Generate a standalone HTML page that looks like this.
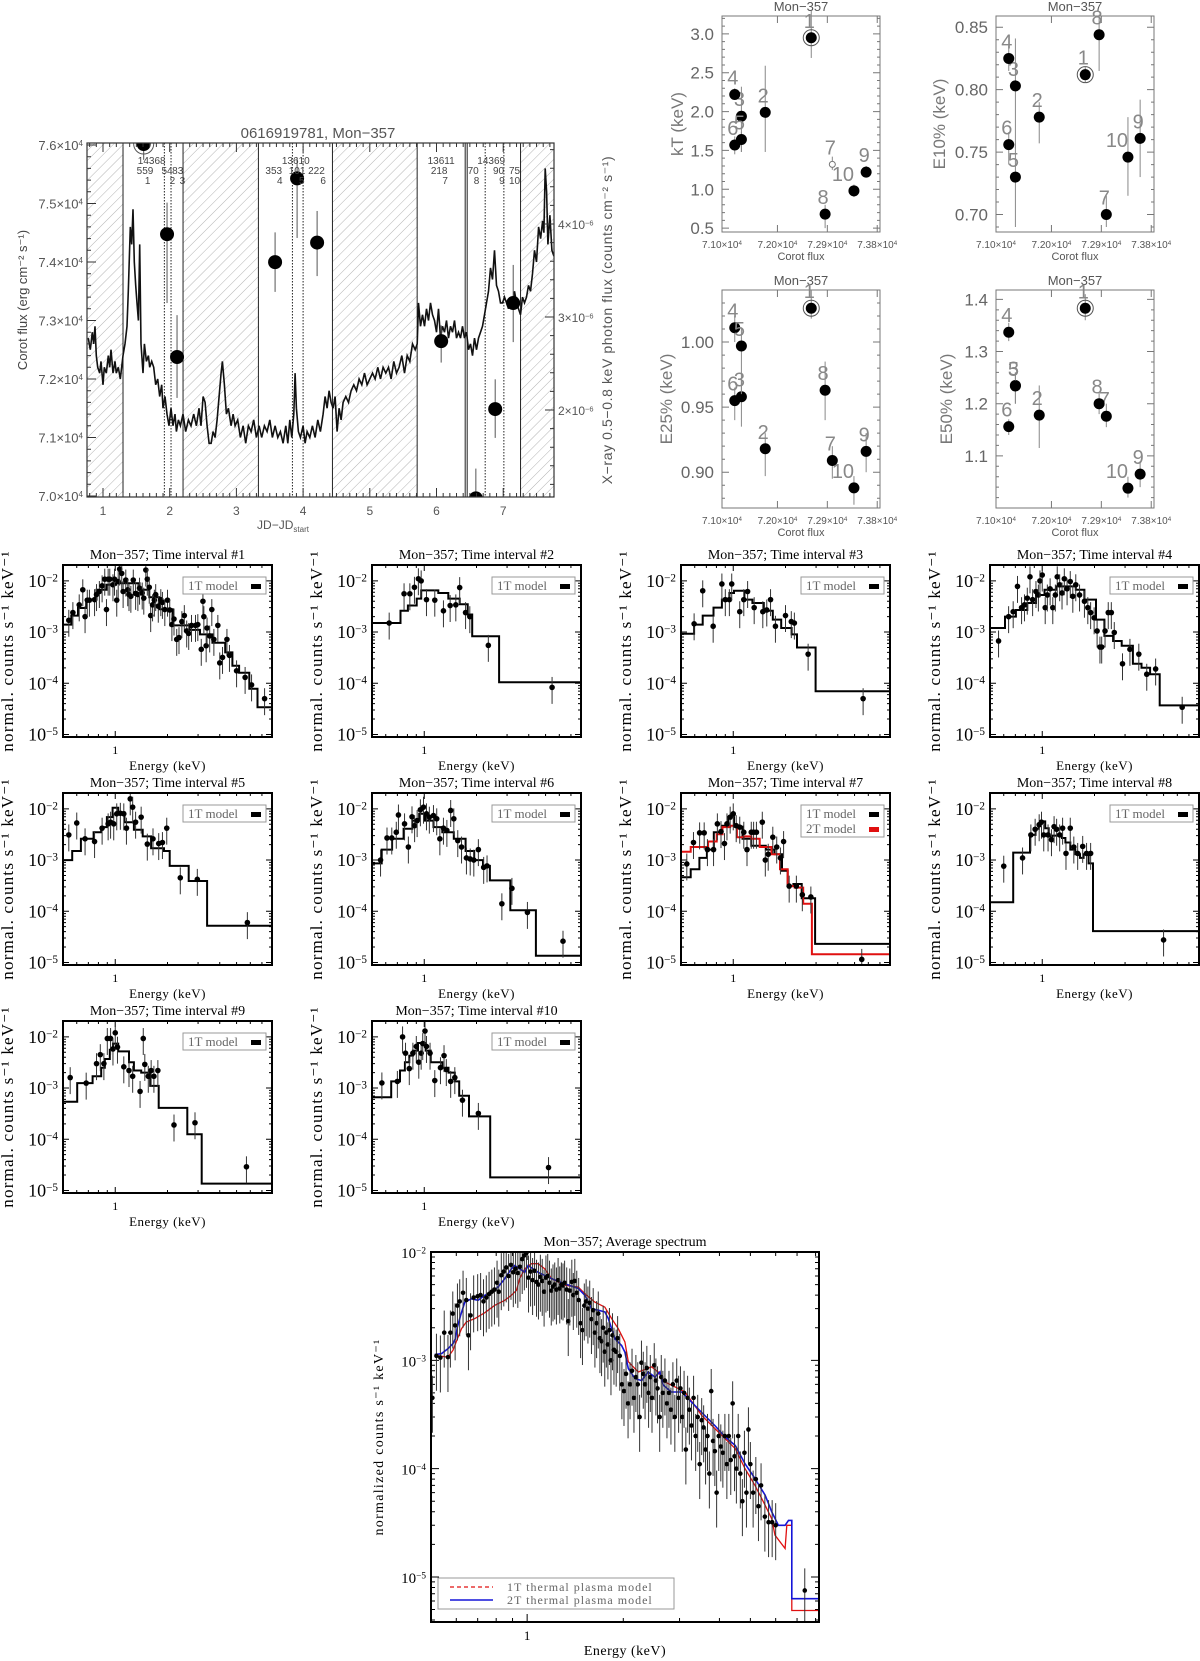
<!DOCTYPE html>
<html><head><meta charset="utf-8"><title>Mon-357 figure</title>
<style>
html,body{margin:0;padding:0;background:#fff;}
svg{display:block;}
text{font-family:"Liberation Sans",sans-serif;}
.serif{font-family:"Liberation Serif",serif;}
</style></head>
<body>
<svg id="fig" width="1200" height="1661" viewBox="0 0 1200 1661">
<defs>
<pattern id="hatch" patternUnits="userSpaceOnUse" width="7" height="7" patternTransform="rotate(45)">
<line x1="0" y1="0" x2="0" y2="7" stroke="#b4b4b4" stroke-width="1"/>
</pattern>
<clipPath id="lcclip"><rect x="87" y="143" width="467" height="354"/></clipPath>
</defs>
</svg>
<script>
// ---------------- LIGHT CURVE DATA ----------------
const lcJD=[0.78,0.81,0.84,0.86,0.88,0.9,0.92,0.95,0.97,1.0,1.02,1.05,1.08,1.1,1.12,1.15,1.18,1.2,1.23,1.26,1.3,1.33,1.36,1.38,1.41,1.43,1.45,1.47,1.49,1.51,1.53,1.55,1.57,1.6,1.62,1.65,1.68,1.7,1.73,1.76,1.79,1.82,1.85,1.88,1.9,1.93,1.96,1.99,2.02,2.05,2.08,2.1,2.13,2.16,2.2,2.24,2.28,2.32,2.36,2.4,2.44,2.47,2.5,2.53,2.56,2.59,2.62,2.65,2.68,2.71,2.74,2.77,2.79,2.82,2.85,2.88,2.92,2.95,2.98,3.02,3.06,3.1,3.14,3.18,3.22,3.26,3.3,3.34,3.38,3.42,3.46,3.5,3.54,3.58,3.62,3.66,3.7,3.74,3.77,3.8,3.83,3.86,3.88,3.9,3.93,3.96,4.0,4.03,4.06,4.1,4.14,4.18,4.22,4.26,4.3,4.33,4.36,4.39,4.42,4.45,4.48,4.51,4.54,4.57,4.6,4.64,4.68,4.72,4.76,4.8,4.84,4.88,4.92,4.96,5.0,5.04,5.08,5.12,5.16,5.2,5.24,5.28,5.32,5.36,5.4,5.44,5.48,5.52,5.56,5.6,5.64,5.68,5.71,5.73,5.76,5.79,5.82,5.85,5.88,5.91,5.94,5.97,6.0,6.03,6.06,6.09,6.12,6.15,6.18,6.21,6.24,6.27,6.3,6.33,6.36,6.39,6.42,6.45,6.48,6.51,6.54,6.57,6.6,6.63,6.66,6.69,6.72,6.75,6.78,6.81,6.84,6.87,6.9,6.93,6.96,6.99,7.02,7.05,7.08,7.11,7.14,7.17,7.2,7.23,7.26,7.29,7.32,7.35,7.38,7.41,7.44,7.47,7.5,7.53,7.56,7.59,7.61,7.63,7.65,7.67,7.7,7.73,7.76];
const lcFlux=[7.27,7.25,7.28,7.26,7.29,7.24,7.22,7.21,7.23,7.19,7.22,7.21,7.24,7.22,7.25,7.21,7.23,7.21,7.22,7.20,7.24,7.26,7.29,7.35,7.46,7.43,7.49,7.40,7.36,7.33,7.30,7.43,7.26,7.21,7.26,7.23,7.24,7.22,7.23,7.22,7.19,7.20,7.17,7.19,7.15,7.17,7.14,7.12,7.15,7.12,7.14,7.11,7.13,7.12,7.14,7.11,7.13,7.12,7.14,7.12,7.15,7.12,7.17,7.16,7.12,7.09,7.09,7.11,7.10,7.13,7.17,7.21,7.23,7.19,7.14,7.15,7.12,7.14,7.12,7.13,7.10,7.12,7.09,7.12,7.11,7.13,7.10,7.12,7.10,7.12,7.11,7.13,7.10,7.12,7.10,7.11,7.09,7.12,7.09,7.13,7.10,7.14,7.21,7.15,7.11,7.10,7.12,7.09,7.11,7.10,7.12,7.10,7.13,7.11,7.14,7.17,7.15,7.18,7.16,7.15,7.17,7.11,7.15,7.13,7.16,7.17,7.16,7.18,7.19,7.18,7.20,7.19,7.21,7.19,7.20,7.21,7.20,7.22,7.20,7.22,7.21,7.22,7.20,7.23,7.21,7.22,7.24,7.21,7.24,7.23,7.26,7.25,7.26,7.33,7.29,7.31,7.29,7.32,7.30,7.33,7.31,7.30,7.28,7.32,7.27,7.29,7.28,7.30,7.27,7.29,7.28,7.30,7.27,7.28,7.27,7.29,7.27,7.28,7.25,7.26,7.24,7.27,7.25,7.27,7.28,7.29,7.31,7.33,7.35,7.39,7.37,7.42,7.36,7.35,7.33,7.33,7.34,7.33,7.32,7.34,7.33,7.35,7.33,7.32,7.31,7.34,7.33,7.34,7.36,7.35,7.38,7.42,7.40,7.46,7.44,7.47,7.45,7.56,7.52,7.43,7.48,7.42,7.41];
const solidJD=[1.30,2.20,3.33,4.44,5.71,6.43,6.46,7.26];
const dottedJD=[1.92,2.02,3.84,4.00,6.73,7.01];
const hatchStart=[0.76,2.20,4.44,7.26];
const hatchEnd=[1.30,3.33,5.71,7.77];
const xrJD=[1.61,1.96,2.11,3.58,3.91,4.21,6.07,6.59,6.88,7.15];
const xrFlux=[4.86,3.89,2.57,3.59,4.49,3.80,2.74,1.05,2.01,3.15];
const xrLo=[4.69,3.15,2.13,3.27,3.85,3.44,2.51,0.95,1.70,2.73];
const xrHi=[4.86,4.23,3.02,3.91,4.71,4.14,2.91,1.37,2.33,3.56];
const obsLabels=["14368","13610","13611","14369"];
const obsJD=[1.73,3.89,6.07,6.82];
const cntLabels=["559","54","83","353","101","222","218","70","90","75"];
const cntJD=[1.63,1.96,2.12,3.56,3.91,4.20,6.04,6.55,6.93,7.17];
const idxLabels=["1","2","3","4","5","6","7","8","9","10"];
const idxJD=[1.67,2.04,2.19,3.65,3.98,4.30,6.13,6.60,6.98,7.17];
const lcYTicks=[7.0,7.1,7.2,7.3,7.4,7.5,7.6];
const lcYLabels=["7.0","7.1","7.2","7.3","7.4","7.5","7.6"];
const lcRTicks=[2,3,4];
const lcXTicks=[1,2,3,4,5,6,7];

// ---------------- SCATTER PANELS DATA ----------------
const corotFlux=[7.261,7.178,7.135,7.123,7.135,7.123,7.299,7.286,7.360,7.338];
const ktVal=[2.95,1.99,1.94,2.22,1.64,1.57,1.32,0.68,1.22,0.98];
const ktLo=[2.69,1.48,1.48,2.17,1.48,1.45,1.25,0.50,1.15,0.90];
const ktHi=[3.30,2.59,2.32,2.30,1.74,1.68,1.42,0.80,1.30,1.06];
const e10Val=[0.812,0.778,0.803,0.825,0.730,0.756,0.700,0.844,0.761,0.746];
const e10Lo=[0.806,0.757,0.753,0.815,0.690,0.740,0.690,0.815,0.730,0.715];
const e10Hi=[0.818,0.790,0.841,0.835,0.757,0.766,0.715,0.860,0.792,0.778];
const e25Val=[1.026,0.918,0.958,1.011,0.997,0.955,0.909,0.963,0.916,0.888];
const e25Lo=[1.018,0.897,0.935,1.000,0.960,0.940,0.895,0.940,0.900,0.875];
const e25Hi=[1.040,0.930,0.970,1.020,1.010,0.965,0.920,0.985,0.930,0.897];
const e50Val=[1.383,1.178,1.235,1.337,1.234,1.156,1.176,1.200,1.065,1.038];
const e50Lo=[1.360,1.115,1.200,1.320,1.200,1.140,1.155,1.180,1.040,1.020];
const e50Hi=[1.410,1.235,1.260,1.355,1.260,1.170,1.200,1.220,1.090,1.060];
const corotTicks=[7.10,7.20,7.29,7.38];
const corotTickLabels=["7.10","7.20","7.29","7.38"];

// ---------------- SPECTRA DATA ----------------
const s1E=[0.54,0.57,0.62,0.65,0.67,0.69,0.71,0.76,0.78,0.81,0.84,0.87,0.89,0.91,0.93,0.97,0.99,1.02,1.04,1.06,1.09,1.11,1.15,1.18,1.2,1.23,1.27,1.31,1.35,1.38,1.43,1.46,1.5,1.53,1.57,1.6,1.64,1.68,1.71,1.77,1.83,1.87,1.93,2.0,2.06,2.12,2.18,2.26,2.33,2.42,2.5,2.58,2.65,2.75,2.9,2.99,3.13,3.2,3.24,3.34,3.38,3.5,3.6,3.7,3.9,4.0,4.15,4.4,4.55,5.0,5.6,6.1,7.25];
const s1C=[1.7e-3,2.4e-3,3.4e-3,6.7e-3,2e-3,4.2e-3,4.2e-3,4.3e-3,5.4e-3,6.2e-3,8e-3,1.08e-2,2.75e-3,1.08e-2,1.08e-2,8.4e-3,1.08e-2,4.2e-3,9.7e-3,1.7e-2,1.4e-2,6.2e-3,1.04e-2,6.7e-3,5.4e-3,5e-3,1.04e-2,5.7e-3,5.4e-3,7.2e-3,5.8e-3,4.6e-3,1.63e-2,1.08e-2,7.5e-3,2.1e-3,3.4e-3,4.2e-3,5.4e-3,3.2e-3,4.3e-3,3.8e-3,2.75e-3,4.2e-3,2.7e-3,1.4e-3,1.8e-3,7.2e-4,7.8e-4,1.6e-3,2.1e-3,1.05e-3,9.4e-4,1.35e-3,1.35e-3,1.4e-3,4.6e-4,4e-3,2e-3,5.4e-4,1.2e-3,8.4e-4,2.75e-3,7.2e-4,1.35e-3,2.5e-4,3.2e-4,7.2e-4,3.5e-4,1.75e-4,1.3e-4,9.3e-5,5e-5];
const m1E=[0.5,0.558,0.61,0.68,0.78,0.89,1.01,1.38,1.57,1.79,2.14,2.68,3.08,3.63,4.3,4.73,5.17,5.92,6.6,8];
const m1V=[1.4e-3,2.1e-3,2.95e-3,4.3e-3,6.7e-3,8.4e-3,9e-3,6.7e-3,4.8e-3,2.8e-3,1.35e-3,1.1e-3,9e-4,6.2e-4,4e-4,2.2e-4,1.6e-4,7.8e-5,3.4e-5];

const s2E=[0.628,0.765,0.826,0.878,0.925,0.96,1.03,1.15,1.29,1.41,1.52,1.6,1.73,1.83,2.34,5.45];
const s2C=[1.5e-3,5.6e-3,5.6e-3,7.5e-3,1.1e-2,1e-2,4.3e-3,4.2e-3,2.6e-3,3.3e-3,3.4e-3,7.4e-3,2.4e-3,2.0e-3,5.5e-4,8.3e-5];
const m2E=[0.5,0.73,0.805,0.905,0.96,1.205,1.375,1.6,1.78,1.89,2.7,8];
const m2V=[1.5e-3,2.6e-3,3.3e-3,4.5e-3,6.5e-3,5.8e-3,4.5e-3,3.5e-3,2.2e-3,8.3e-4,1.05e-4];

const s3E=[0.595,0.667,0.766,0.86,0.9,0.95,0.98,1.09,1.15,1.21,1.32,1.48,1.56,1.64,1.75,2.0,2.16,2.25,2.7,5.6];
const s3C=[1.45e-3,6.4e-3,1.3e-3,8.7e-3,4.3e-3,4.3e-3,8.7e-3,2.5e-3,4.3e-3,6.2e-3,3.0e-3,2.5e-3,2.7e-3,4.3e-3,1.3e-3,2.1e-3,1.6e-3,1.5e-3,3.7e-4,5e-5];
const m3E=[0.5,0.595,0.667,0.77,0.86,0.95,1.01,1.16,1.29,1.5,1.69,1.89,2.17,2.33,2.98,8];
const m3V=[9.3e-4,1.4e-3,2.1e-3,3e-3,4.3e-3,5.8e-3,6.4e-3,4.3e-3,3.7e-3,2.6e-3,1.75e-3,1.2e-3,9e-4,5e-4,7e-5];

const s4E=[0.56,0.64,0.68,0.72,0.76,0.79,0.82,0.85,0.88,0.92,0.95,0.97,1.0,1.04,1.07,1.11,1.15,1.19,1.22,1.26,1.3,1.34,1.39,1.45,1.5,1.56,1.64,1.75,1.83,1.9,1.99,2.07,2.15,2.2,2.3,2.4,2.5,2.6,2.9,3.2,3.6,4.0,4.5,6.4];
const s4C=[6.7e-4,2e-3,2.5e-3,7.8e-3,3e-3,3.4e-3,4.6e-3,1.2e-2,4.3e-3,6.2e-3,5.3e-3,1e-2,1.3e-2,3e-3,5.3e-3,7e-3,3e-3,5.3e-3,1.2e-2,8.4e-3,5.8e-3,1.1e-2,7e-3,9.7e-3,5e-3,8.4e-3,5.3e-3,4e-3,3e-3,2.4e-3,1.9e-3,1.05e-3,5.1e-4,5.1e-4,1.05e-3,2.4e-3,2.4e-3,9.8e-4,2.4e-4,4.6e-4,3.7e-4,1.5e-4,1.9e-4,3.4e-5];
const m4E=[0.5,0.61,0.705,0.82,0.92,1.03,1.2,1.56,1.75,2.04,2.28,2.56,2.87,3.33,3.73,4.18,4.75,8];
const m4V=[1.2e-3,2.0e-3,2.7e-3,3.7e-3,5.3e-3,6.7e-3,7.8e-3,6.7e-3,4.3e-3,1.75e-3,8.4e-4,6.7e-4,5.4e-4,2.4e-4,2.0e-4,1.5e-4,3.7e-5];

const s5E=[0.54,0.6,0.67,0.76,0.84,0.91,0.94,0.98,1.02,1.07,1.12,1.16,1.22,1.26,1.31,1.41,1.53,1.65,1.78,1.87,1.98,2.37,2.97,5.77];
const s5C=[3.1e-3,5.3e-3,2.6e-3,2.3e-3,4.2e-3,5.1e-3,5.5e-3,5.1e-3,8e-3,8.2e-3,8e-3,4.2e-3,1.57e-2,1.08e-2,5.5e-3,6.9e-3,2.05e-3,2.6e-3,2.1e-3,2.2e-3,4.2e-3,4.5e-4,4.2e-4,6e-5];
const m5E=[0.5,0.565,0.634,0.75,0.83,0.895,0.965,1.04,1.13,1.28,1.44,1.61,1.91,2.06,2.65,3.38,8];
const m5V=[1.0e-3,1.5e-3,2.6e-3,3.5e-3,4.4e-3,6.9e-3,1.05e-2,8.6e-3,5.5e-3,3.9e-3,2.9e-3,1.7e-3,1.5e-3,7.7e-4,3.9e-4,5.2e-5];

const s6E=[0.56,0.61,0.65,0.69,0.71,0.77,0.81,0.85,0.88,0.91,0.95,0.99,1.03,1.07,1.13,1.18,1.23,1.29,1.35,1.42,1.48,1.56,1.64,1.75,1.84,1.93,2.05,2.2,2.3,2.8,3.2,3.93,6.3];
const s6C=[1.0e-3,2.7e-3,2.7e-3,3.5e-3,7.6e-3,5.1e-3,1.8e-3,7e-3,4.7e-3,5.9e-3,9.6e-3,1.08e-2,8e-3,6.9e-3,7.4e-3,6.4e-3,2.6e-3,4.2e-3,3.8e-3,9.3e-3,6.4e-3,2.4e-3,1.8e-3,1.1e-3,1.05e-3,1.0e-3,1.6e-3,7.2e-4,7.7e-4,1.4e-4,2.8e-4,9.5e-5,2.6e-5];
const m6E=[0.5,0.569,0.653,0.76,0.853,0.935,1.01,1.13,1.27,1.48,1.73,1.94,2.18,2.39,3.13,4.4,8];
const m6V=[8.6e-4,1.6e-3,2.6e-3,4.1e-3,5.9e-3,8e-3,5.9e-3,4.4e-3,3.5e-3,2.6e-3,1.5e-3,1.0e-3,7.7e-4,4.0e-4,1.05e-4,1.35e-5];

const s7E=[0.54,0.59,0.64,0.68,0.71,0.77,0.81,0.85,0.89,0.92,0.96,1.0,1.04,1.09,1.15,1.2,1.27,1.31,1.36,1.47,1.53,1.59,1.69,1.78,1.87,1.95,2.1,2.31,2.5,2.8,5.5];
const s7C=[8.4e-4,2.2e-3,3.4e-3,3.4e-3,1.6e-3,1.6e-3,5.1e-3,3.6e-3,2.1e-3,5.1e-3,6.9e-3,8e-3,4.7e-3,4.4e-3,3.5e-3,1.6e-3,3.5e-3,3.5e-3,3.5e-3,5.5e-3,1.0e-3,1.3e-3,2.8e-3,1.8e-3,1.1e-3,2.3e-3,3.1e-4,3.1e-4,2.1e-4,1.9e-4,1.15e-5];
const m7E=[0.5,0.569,0.638,0.705,0.773,0.867,0.935,1.01,1.13,1.27,1.54,1.73,1.91,2.06,2.22,2.48,2.96,8];
const m7V=[4.6e-4,6.6e-4,1.1e-3,1.6e-3,3.5e-3,4.7e-3,6.9e-3,4.5e-3,2.6e-3,1.9e-3,1.6e-3,1.3e-3,6.2e-4,3.1e-4,3.4e-4,1.8e-4,2.3e-5];
const m7bE=[0.5,0.569,0.716,0.803,0.867,0.96,1.05,1.15,1.27,1.42,1.66,1.86,2.06,2.26,2.53,2.84,8];
const m7bV=[1.45e-3,1.8e-3,2.3e-3,3.2e-3,4.4e-3,4.7e-3,2.8e-3,2.9e-3,2.6e-3,1.8e-3,1.3e-3,6.6e-4,3.1e-4,2.9e-4,1.4e-4,1.45e-5];

const s8E=[0.6,0.77,0.86,0.91,0.96,0.99,1.02,1.08,1.13,1.17,1.21,1.26,1.31,1.37,1.45,1.52,1.6,1.71,1.8,1.9,5.0];
const s8C=[7.6e-4,1.1e-3,3.1e-3,4e-3,4.9e-3,5.5e-3,3.1e-3,3.1e-3,2.5e-3,4.5e-3,4e-3,3.1e-3,4.2e-3,1.35e-3,4.2e-3,1.8e-3,1.35e-3,1.85e-3,1.35e-3,1.35e-3,2.75e-5];
const m8E=[0.5,0.68,0.85,0.914,0.955,0.985,1.04,1.09,1.14,1.30,1.36,1.45,1.55,1.65,1.73,1.85,1.96,8];
const m8V=[1.5e-4,1.4e-3,3.1e-3,4.1e-3,4.9e-3,5.7e-3,4.2e-3,2.9e-3,3e-3,2.7e-3,2.2e-3,1.6e-3,1.3e-3,1.1e-3,1.3e-3,8.6e-4,4.1e-5];

const s9E=[0.55,0.68,0.78,0.82,0.86,0.9,0.94,0.97,1.0,1.03,1.12,1.2,1.26,1.39,1.45,1.48,1.55,1.61,1.67,1.76,2.18,2.88,5.7];
const s9C=[1.6e-3,1.25e-3,3e-3,4.5e-3,3e-3,9.3e-3,9.3e-3,5.8e-3,1.2e-2,6.3e-3,2.6e-3,2.2e-3,1.7e-3,8.6e-4,9.3e-3,2.9e-3,1.7e-3,2.2e-3,1.7e-3,2.2e-3,1.9e-4,2.1e-4,2.9e-5];
const m9E=[0.5,0.604,0.74,0.83,0.87,0.93,0.97,1.04,1.2,1.28,1.41,1.59,1.78,2.6,3.15,8];
const m9V=[5.4e-4,1.25e-3,1.7e-3,2.5e-3,3.7e-3,5.6e-3,7.4e-3,5.2e-3,3.2e-3,2.2e-3,2e-3,1.1e-3,4.1e-4,1.25e-4,1.36e-5];

const s10E=[0.57,0.7,0.75,0.78,0.82,0.86,0.9,0.93,0.96,0.98,1.01,1.03,1.08,1.15,1.24,1.3,1.34,1.42,1.5,1.66,2.05,5.2];
const s10C=[1.26e-3,1.35e-3,1e-2,4.8e-3,2.4e-3,4.8e-3,6.5e-3,3.2e-3,4.8e-3,7.4e-3,1.3e-2,6.5e-3,4.8e-3,1.4e-3,2.5e-3,4.3e-3,2.3e-3,1.35e-3,1.6e-3,5.8e-4,3.2e-4,2.8e-5];
const m10E=[0.5,0.645,0.725,0.774,0.82,0.86,0.92,1.02,1.09,1.27,1.38,1.5,1.59,1.81,2.4,8];
const m10V=[6.6e-4,1.35e-3,2.2e-3,3.2e-3,4.3e-3,5.4e-3,7.6e-3,5.4e-3,3.2e-3,2.5e-3,2e-3,1.35e-3,7.1e-4,2.8e-4,1.8e-5];

// average spectrum
const avgE=[0.505,0.52,0.535,0.55,0.565,0.575,0.585,0.595,0.605,0.615,0.63,0.645,0.655,0.665,0.68,0.70,0.715,0.73,0.745,0.76,0.775,0.79,0.805,0.815,0.83,0.845,0.86,0.875,0.89,0.905,0.92,0.935,0.95,0.965,0.98,0.995,1.01,1.025,1.04,1.055,1.07,1.085,1.1,1.115,1.13,1.145,1.16,1.175,1.19,1.205,1.22,1.235,1.25,1.265,1.28,1.295,1.31,1.33,1.345,1.36,1.38,1.395,1.41,1.43,1.45,1.47,1.49,1.51,1.53,1.55,1.57,1.59,1.61,1.63,1.65,1.67,1.69,1.71,1.73,1.75,1.77,1.79,1.81,1.83,1.85,1.87,1.9,1.92,1.95,1.98,2.01,2.04,2.07,2.1,2.13,2.16,2.19,2.22,2.25,2.28,2.31,2.34,2.37,2.4,2.43,2.46,2.5,2.53,2.56,2.6,2.63,2.66,2.7,2.74,2.78,2.82,2.86,2.9,2.94,2.98,3.02,3.06,3.1,3.14,3.18,3.22,3.27,3.32,3.37,3.42,3.47,3.52,3.57,3.62,3.67,3.72,3.77,3.82,3.87,3.92,3.98,4.04,4.1,4.16,4.22,4.28,4.34,4.4,4.46,4.52,4.58,4.65,4.72,4.79,4.86,4.93,5.0,5.1,5.2,5.3,5.4,5.55,5.7,5.85,6.0,7.4];
const avgC=[4.5e-4,1.1e-3,1.06e-3,1.8e-3,1.07e-3,1.8e-3,2.7e-3,2.1e-3,3.2e-3,3.5e-3,4.2e-3,3.6e-3,1.7e-3,2.6e-3,3.8e-3,3.9e-3,4.0e-3,3.5e-3,3.8e-3,4.1e-3,4.3e-3,4.5e-3,5.2e-3,4.3e-3,6.1e-3,6.6e-3,7.2e-3,6.0e-3,7.6e-3,6.5e-3,7.0e-3,6.4e-3,7.3e-3,8.6e-3,9.3e-3,9.8e-3,5.8e-3,6.6e-3,5.5e-3,6.7e-3,5.3e-3,5.0e-3,5.9e-3,5.4e-3,4.3e-3,5.8e-3,6.0e-3,5.2e-3,4.4e-3,4.8e-3,5.0e-3,4.5e-3,5.5e-3,4.6e-3,5.0e-3,4.9e-3,5.2e-3,4.5e-3,2.3e-3,4.4e-3,5.3e-3,4.0e-3,5.4e-3,4.2e-3,3.6e-3,2.2e-3,1.9e-3,3.2e-3,3.5e-3,3.0e-3,3.4e-3,2.4e-3,2.9e-3,1.8e-3,2.2e-3,2.7e-3,1.6e-3,1.5e-3,2.0e-3,1.2e-3,1.8e-3,1.4e-3,1.9e-3,1.0e-3,1.7e-3,1.25e-3,1.2e-3,1.6e-3,1.1e-3,6.0e-4,5.2e-4,7.5e-4,4.0e-4,6.0e-4,8.0e-4,4.5e-4,7.0e-4,6.0e-4,3.0e-4,9.5e-4,7.5e-4,6.0e-4,8.5e-4,5.0e-4,7.0e-4,4.5e-4,9.0e-4,6.5e-4,5.5e-4,3.0e-4,7.0e-4,5.0e-4,6.5e-4,4.0e-4,5.0e-4,3.5e-4,6.0e-4,3.0e-4,6.5e-4,4.5e-4,5.5e-4,3.0e-4,5.0e-4,1.5e-4,4.5e-4,3.5e-4,2.5e-4,4.5e-4,2.0e-4,3.0e-4,1.1e-4,2.8e-4,2.4e-4,1.5e-4,2.0e-4,9.0e-5,5.2e-4,1.8e-4,1.45e-4,6.0e-5,2.0e-4,1.6e-4,1.4e-4,2.0e-4,1.1e-4,2.0e-4,1.2e-4,4.0e-4,1.3e-4,1.0e-4,2.0e-4,9.0e-5,5.0e-5,1.4e-4,6.0e-5,2.3e-4,1.1e-4,6.0e-5,8.0e-5,4.5e-5,7.0e-5,3.6e-5,3.2e-5,3.2e-5,3.0e-5,7.5e-6];
const avg2TE=[0.513,0.539,0.565,0.586,0.596,0.605,0.619,0.638,0.669,0.702,0.737,0.773,0.811,0.851,0.893,0.915,0.948,0.983,1.007,1.083,1.192,1.313,1.445,1.516,1.591,1.669,1.751,1.795,1.883,1.976,2.024,2.073,2.175,2.282,2.394,2.512,2.604,2.667,2.83,3.05,3.2,3.52,3.87,4.17,4.48,4.81,5.17,5.56,5.83,6.12,6.42,6.58,6.74,6.74,8.2];
const avg2TC=[1.13e-3,1.15e-3,1.28e-3,1.43e-3,1.58e-3,2.03e-3,2.6e-3,3.45e-3,3.7e-3,3.58e-3,3.98e-3,4.28e-3,4.75e-3,5.68e-3,7.0e-3,7.5e-3,7.0e-3,6.5e-3,7.5e-3,6.5e-3,5.68e-3,5.1e-3,4.6e-3,3.98e-3,3.0e-3,2.9e-3,2.8e-3,2.43e-3,1.58e-3,1.37e-3,1.19e-3,8.4e-4,6.8e-4,6.5e-4,7.8e-4,7.0e-4,7.8e-4,5.9e-4,5.1e-4,5.1e-4,4.4e-4,3.3e-4,2.5e-4,1.96e-4,1.64e-4,1.11e-4,8.1e-5,5.7e-5,4.0e-5,3.0e-5,3.0e-5,3.33e-5,3.33e-5,6.3e-6,6.3e-6];
const avg1TE=[0.513,0.565,0.586,0.605,0.623,0.645,0.686,0.737,0.792,0.851,0.893,0.926,0.948,0.983,1.032,1.083,1.136,1.192,1.313,1.445,1.516,1.629,1.751,1.838,1.929,2.024,2.073,2.228,2.452,2.573,2.7,2.97,3.12,3.52,3.97,4.48,4.81,5.17,5.56,5.83,5.97,6.42,6.5,6.74,6.74,8.2];
const avg1TC=[1.11e-3,1.07e-3,1.24e-3,1.58e-3,1.96e-3,2.26e-3,2.43e-3,2.75e-3,3.22e-3,3.58e-3,3.98e-3,4.43e-3,5.68e-3,7.0e-3,7.8e-3,7.8e-3,7.0e-3,5.68e-3,4.92e-3,4.75e-3,4.12e-3,3.45e-3,3.1e-3,2.43e-3,1.96e-3,1.48e-3,9.7e-4,7.8e-4,8.7e-4,7.8e-4,6.3e-4,5.5e-4,5.1e-4,3.1e-4,2.18e-4,1.53e-4,1.0e-4,7.0e-5,4.6e-5,3.45e-5,2.43e-5,1.83e-5,3.0e-5,3.0e-5,4.9e-6,4.9e-6];

// ---------------- HELPERS ----------------
const svg=document.getElementById('fig');
const NS=svg.namespaceURI;
function mk(tag,attrs,parent){const el=document.createElementNS(NS,tag);for(const k in attrs)el.setAttribute(k,attrs[k]);(parent||svg).appendChild(el);return el;}
function txt(x,y,s,attrs,parent){const el=mk('text',Object.assign({x:x,y:y},attrs),parent);el.textContent=s;return el;}
function supTxt(x,y,base,sup,attrs,parent){
  const el=mk('text',Object.assign({x:x,y:y},attrs),parent);
  const a=mk('tspan',{},el);a.textContent=base;
  const b=mk('tspan',{dy:'-0.5em','font-size':'0.62em'},el);b.textContent=sup;
  return el;
}
function grp(parent){return mk('g',{},parent);}

// ---------------- LIGHT CURVE ----------------
(function(){
  const g=grp();
  
  
  const L=87,R=554,T=143,B=497;
  const X=j=>103+(j-1)*66.7;
  const Y=v=>145+(7.6-v)/0.6*351;
  const YR=p=>317-(p-3)*93;
  for(let i=0;i<hatchStart.length;i++){
    const r=mk('rect',{x:X(hatchStart[i]),y:T,width:X(hatchEnd[i])-X(hatchStart[i]),height:B-T,fill:'url(#hatch)','clip-path':'url(#lcclip)'},g);
    
    
  }
  for(const j of solidJD){
    const l=mk('line',{x1:X(j),x2:X(j),y1:T,y2:B,stroke:'#222','stroke-width':1},g);
    
    
  }
  for(const j of dottedJD){
    const l=mk('line',{x1:X(j),x2:X(j),y1:T,y2:B,stroke:'#222','stroke-width':1,'stroke-dasharray':'1.5,1.5'},g);
    
    
  }
  let d='';
  for(let i=0;i<lcJD.length;i++)d+=(i?'L':'M')+X(lcJD[i]).toFixed(1)+' '+Y(lcFlux[i]).toFixed(1);
  const line=mk('path',{d:d,fill:'none',stroke:'#111','stroke-width':1.6,'clip-path':'url(#lcclip)'},g);
  
  
  for(let i=0;i<xrJD.length;i++){
    const e=mk('line',{x1:X(xrJD[i]),x2:X(xrJD[i]),y1:Math.min(YR(xrLo[i]),B),y2:YR(xrHi[i]),stroke:'#555','stroke-width':1},g);
    
    
    const c=mk('circle',{cx:X(xrJD[i]),cy:YR(xrFlux[i]),r:7,fill:'#000','clip-path':'url(#lcclip)'},g);
    
    
  }
  const ring=mk('circle',{cx:X(xrJD[0]),cy:YR(xrFlux[0]),r:10,fill:'none',stroke:'#555','stroke-width':1,'clip-path':'url(#lcclip)'},g);
  
  
  const box=mk('rect',{x:L,y:T,width:R-L,height:B-T,fill:'none',stroke:'#333','stroke-width':1.2},g);
  
  
  let td='';
  for(let v=7.0;v<=7.6001;v+=0.02){const y=Y(v);const major=Math.abs(v*10-Math.round(v*10))<0.01;const len=major?9:4;td+=`M${L} ${y}h${len}`;}
  for(let p=1.0;p<=4.9;p+=0.2){const y=YR(p);if(y<T||y>B)continue;const major=Math.abs(p-Math.round(p))<0.01;td+=`M${R} ${y}h${major?-9:-4}`;}
  for(let j=0.8;j<=7.75;j+=0.1){const x=X(j);const major=Math.abs(j-Math.round(j))<0.01;const len=major?9:4;td+=`M${x} ${B}v${-len}M${x} ${T}v${len}`;}
  const ticks=mk('path',{d:td,stroke:'#333','stroke-width':1,fill:'none'},g);
  
  
  for(let i=0;i<lcYTicks.length;i++){
    const t=supTxt(83,Y(lcYTicks[i])+5,lcYLabels[i]+'×10','4',{'text-anchor':'end','font-size':13,fill:'#555'},g);
    
    
  }
  for(const p of lcRTicks){
    const t=supTxt(558,YR(p)+5,p+'×10','−6',{'font-size':12,fill:'#555'},g);
    
    
  }
  for(const j of lcXTicks){
    const t=txt(X(j),515,String(j),{'text-anchor':'middle','font-size':12,fill:'#555'},g);
    
    
  }
  const xl=mk('text',{x:283,y:529,'text-anchor':'middle','font-size':12,fill:'#555'},g);
  
  
  const xa=mk('tspan',{},xl);xa.textContent='JD−JD';
  const xb=mk('tspan',{dy:'3','font-size':8},xl);xb.textContent='start';
  const yl=txt(0,0,'Corot flux (erg cm⁻² s⁻¹)',{'text-anchor':'middle','font-size':13,fill:'#444',transform:'translate(27,300) rotate(-90)'},g);
  
  
  const yr=txt(0,0,'X−ray 0.5−0.8 keV photon flux (counts cm⁻² s⁻¹)',{'text-anchor':'middle','font-size':14,fill:'#555','letter-spacing':'0.6',transform:'translate(612,320) rotate(-90)'},g);
  
  
  const ti=txt(318,138,'0616919781, Mon−357',{'text-anchor':'middle','font-size':15,fill:'#555'},g);
  
  
  for(let i=0;i<obsLabels.length;i++){
    const t=txt(X(obsJD[i]),164,obsLabels[i],{'text-anchor':'middle','font-size':10,fill:'#444'},g);
    
    
  }
  for(let i=0;i<cntLabels.length;i++){
    const t=txt(X(cntJD[i]),174,cntLabels[i],{'text-anchor':'middle','font-size':10,fill:'#444'},g);
    
    
    const u=txt(X(idxJD[i]),184,idxLabels[i],{'text-anchor':'middle','font-size':10,fill:'#444'},g);
    
    
  }
})();

// ---------------- SCATTER PANELS ----------------
function scatterPanel(p){
  const g=grp();
  
  
  const X=c=>p.x+(c-7.10)/(7.385-7.10)*p.w;
  const Y=v=>p.y+(p.ymax-v)/(p.ymax-p.ymin)*p.h;
  const box=mk('rect',{x:p.x,y:p.y,width:p.w,height:p.h,fill:'none',stroke:'#777','stroke-width':1},g);
  
  
  let td='';
  for(const v of p.ticks){const y=Y(v);td+=`M${p.x} ${y}h7M${p.x+p.w} ${y}h-7`;}
  for(let v=p.ticks[0]-p.minor*20;v<=p.ymax;v+=p.minor){if(v<p.ymin)continue;const y=Y(v);td+=`M${p.x} ${y}h3M${p.x+p.w} ${y}h-3`;}
  for(const c of corotTicks){const x=X(c);td+=`M${x} ${p.y+p.h}v-7M${x} ${p.y}v7`;}
  const tk=mk('path',{d:td,stroke:'#777','stroke-width':1,fill:'none'},g);
  
  
  for(let i=0;i<p.ticks.length;i++){
    const t=txt(p.x-8,Y(p.ticks[i])+6,p.tickLabels[i],{'text-anchor':'end','font-size':17,fill:'#666'},g);
    
    
  }
  for(let i=0;i<corotTicks.length;i++){
    const t=supTxt(X(corotTicks[i]),p.y+p.h+16,corotTickLabels[i]+'×10','4',{'text-anchor':'middle','font-size':10,fill:'#555'},g);
    
    
  }
  const xt=txt(p.x+p.w/2,p.y+p.h+28,'Corot flux',{'text-anchor':'middle','font-size':11,fill:'#555'},g);
  
  
  const yt=txt(0,0,p.ylabel,{'text-anchor':'middle','font-size':17,fill:'#777',transform:`translate(${p.ylx},${p.y+p.h/2}) rotate(-90)`},g);
  
  
  const tt=txt(p.x+p.w/2,p.y-5,'Mon−357',{'text-anchor':'middle','font-size':13,fill:'#555'},g);
  
  
  for(let i=0;i<p.val.length;i++){
    const x=X(corotFlux[i]),y=Y(p.val[i]);
    const e=mk('line',{x1:x,x2:x,y1:Y(p.lo[i]),y2:Y(p.hi[i]),stroke:'#888','stroke-width':1},g);
    
    
    const open=(p.openIdx===i);
    const c=mk('circle',{cx:x,cy:y,r:open?3:5.5,fill:open?'#fff':'#000',stroke:open?'#777':'none','stroke-width':1},g);
    
    
    if(i===0){
      const r=mk('circle',{cx:x,cy:y,r:8,fill:'none',stroke:'#555','stroke-width':1},g);
      
      
    }
    const lab=txt(x+(i===9?-11:-2),y-10,String(i+1),{'text-anchor':'middle','font-size':20,fill:'#888'},g);
    
    
  }
}
scatterPanel({name:'kt-vs-flux-panel',x:722,y:16,w:158,h:216,ymin:0.45,ymax:3.23,ticks:[0.5,1.0,1.5,2.0,2.5,3.0],tickLabels:['0.5','1.0','1.5','2.0','2.5','3.0'],minor:0.1,val:ktVal,lo:ktLo,hi:ktHi,ylabel:'kT (keV)',ylx:683,openIdx:6});
scatterPanel({name:'e10-vs-flux-panel',x:996,y:16,w:158,h:216,ymin:0.686,ymax:0.859,ticks:[0.70,0.75,0.80,0.85],tickLabels:['0.70','0.75','0.80','0.85'],minor:0.01,val:e10Val,lo:e10Lo,hi:e10Hi,ylabel:'E10% (keV)',ylx:945});
scatterPanel({name:'e25-vs-flux-panel',x:722,y:290,w:158,h:218,ymin:0.8725,ymax:1.040,ticks:[0.90,0.95,1.00],tickLabels:['0.90','0.95','1.00'],minor:0.01,val:e25Val,lo:e25Lo,hi:e25Hi,ylabel:'E25% (keV)',ylx:672});
scatterPanel({name:'e50-vs-flux-panel',x:996,y:290,w:158,h:218,ymin:1.0,ymax:1.418,ticks:[1.1,1.2,1.3,1.4],tickLabels:['1.1','1.2','1.3','1.4'],minor:0.02,val:e50Val,lo:e50Lo,hi:e50Hi,ylabel:'E50% (keV)',ylx:952});

// ---------------- SPECTRA ----------------
function specPanel(p){
  const g=grp();
  
  
  const lr=Math.log10(p.emax/p.emin);
  const X=e=>p.x+p.w*Math.log10(e/p.emin)/lr;
  const Y=c=>p.y+p.h*(p.top-Math.log10(c))/(p.top-p.bot);
  const cid='clip-'+p.name;
  const cp=mk('clipPath',{id:cid},g);
  mk('rect',{x:p.x,y:p.y,width:p.w,height:p.h},cp);
  let td='';
  for(let dec=-6;dec<=-1;dec++){
    for(let m=1;m<=9;m++){
      const v=m*Math.pow(10,dec);const lv=Math.log10(v);
      if(lv>p.top||lv<p.bot)continue;
      const y=Y(v);const len=m===1?p.tl:p.tl/2;
      td+=`M${p.x} ${y}h${len}M${p.x+p.w} ${y}h${-len}`;
    }
  }
  const xt=[0.6,0.7,0.8,0.9,1,2,3,4,5,6,7,8];
  for(const e of xt){if(e<p.emin||e>p.emax)continue;const x=X(e);const len=e===1?p.tl:p.tl/2;td+=`M${x} ${p.y+p.h}v${-len}M${x} ${p.y}v${len}`;}
  const tk=mk('path',{d:td,stroke:'#000','stroke-width':1,fill:'none'},g);
  
  
  for(const m of p.models){
    let d='';
    if(m.step){
      d='M'+X(m.E[0]).toFixed(1)+' '+Y(m.V[0]).toFixed(1);
      for(let i=0;i<m.V.length;i++){
        d+='H'+X(m.E[i+1]).toFixed(1);
        if(i+1<m.V.length)d+='V'+Y(m.V[i+1]).toFixed(1);
      }
    }else{
      for(let i=0;i<m.E.length;i++)d+=(i?'L':'M')+X(m.E[i]).toFixed(1)+' '+Y(m.V[i]).toFixed(1);
    }
    const path=mk('path',{d:d,fill:'none',stroke:m.color,'stroke-width':m.sw,'clip-path':`url(#${cid})`},g);
    if(m.dash)path.setAttribute('stroke-dasharray',m.dash);
    
    
  }
  for(let i=0;i<p.E.length;i++){
    const x=X(p.E[i]),y=Y(p.C[i]);
    const e=mk('line',{x1:x,x2:x,y1:Math.min(Y(p.C[i]/2.1),p.y+p.h),y2:Math.max(Y(p.C[i]*1.6),p.y),stroke:'#333','stroke-width':1},g);
    
    
    const c=mk('circle',{cx:x,cy:y,r:p.pr,fill:'#000','clip-path':`url(#${cid})`},g);
    
    
  }
  const box=mk('rect',{x:p.x,y:p.y,width:p.w,height:p.h,fill:'none',stroke:'#000','stroke-width':2},g);
  
  
  for(let dec=-5;dec<=-2;dec++){
    const t=supTxt(p.x-5,Y(Math.pow(10,dec))+6,'10','−'+(-dec),{'text-anchor':'end','font-size':p.tfs,'class':'serif'},g);
    
    
  }
  const one=txt(X(1),p.y+p.h+p.oneDy,'1',{'text-anchor':'middle','font-size':p.xfs,'class':'serif'},g);
  
  
  const xl=txt(p.x+p.w/2,p.y+p.h+p.xlDy,'Energy (keV)',{'text-anchor':'middle','font-size':p.xlfs,'class':'serif','letter-spacing':'0.5'},g);
  
  
  const yl=txt(0,0,p.ylabel,{'text-anchor':'middle','font-size':p.ylfs,'class':'serif','letter-spacing':p.yls,transform:`translate(${p.x-p.yldx},${p.y+p.h/2}) rotate(-90)`},g);
  
  
  const ti=txt(p.x+p.w/2,p.y-6,p.title,{'text-anchor':'middle','font-size':p.titfs,'class':'serif'},g);
  
  
  return {g:g,X:X,Y:Y};
}
const lefts=[63,372,681,990], tops=[565,793,1021];
const specData=[[s1E,s1C,m1E,m1V],[s2E,s2C,m2E,m2V],[s3E,s3C,m3E,m3V],[s4E,s4C,m4E,m4V],[s5E,s5C,m5E,m5V],[s6E,s6C,m6E,m6V],[s7E,s7C,m7E,m7V],[s8E,s8C,m8E,m8V],[s9E,s9C,m9E,m9V],[s10E,s10C,m10E,m10V]];
for(let k=0;k<10;k++){
  const px=lefts[k%4], py=tops[Math.floor(k/4)];
  const models=[{E:specData[k][2],V:specData[k][3],color:'#000',sw:2,step:true,label:'1t-model-line'}];
  if(k===6)models.push({E:m7bE,V:m7bV,color:'#e01010',sw:2,step:true,label:'2t-model-line'});
  const r=specPanel({name:'spectrum-interval-'+(k+1),x:px,y:py,w:209,h:172,emin:0.5,emax:8,top:-1.69,bot:-5.05,E:specData[k][0],C:specData[k][1],models:models,pr:2.8,tl:6,tfs:18,xfs:12,xlfs:13,ylfs:17,yls:'1.2',yldx:50,oneDy:17,xlDy:33,titfs:14,title:'Mon−357; Time interval #'+(k+1),ylabel:'normal. counts s⁻¹ keV⁻¹'});
  const entries=k===6?[['1T model','#000'],['2T model','#e01010']]:[['1T model','#000']];
  const lx=px+209-89, ly=py+12;
  const lg=mk('g',{},r.g);
  
  
  mk('rect',{x:lx,y:ly,width:83,height:entries.length*15+2,fill:'#fff',stroke:'#999','stroke-width':1},lg);
  entries.forEach((en,i)=>{
    const t=txt(lx+5,ly+13+i*15,en[0],{'font-size':13,fill:'#666','class':'serif'},lg);
    
    
    const s=mk('rect',{x:lx+68,y:ly+7+i*15,width:10,height:5,fill:en[1]},lg);
    
    
  });
}
(function(){
  const r=specPanel({name:'average-spectrum',x:431,y:1252,w:388,h:370,emin:0.5,emax:8.2,top:-2.0,bot:-5.416,E:avgE,C:avgC,
    models:[{E:avg1TE,V:avg1TC,color:'#e01010',sw:1.3,step:false,label:'1t-model-line'},{E:avg2TE,V:avg2TC,color:'#1515d8',sw:1.6,step:false,label:'2t-model-line'}],
    pr:2.3,tl:8,tfs:15,xfs:13,xlfs:14,ylfs:14,yls:'1.3',yldx:48,oneDy:18,xlDy:33,titfs:14,title:'Mon−357; Average spectrum',ylabel:'normalized counts s⁻¹ keV⁻¹'});
  const lg=mk('g',{},r.g);
  
  
  mk('rect',{x:438,y:1578,width:236,height:31,fill:'#fff',stroke:'#999','stroke-width':1},lg);
  const l1=mk('line',{x1:450,x2:493,y1:1587,y2:1587,stroke:'#e01010','stroke-width':1.2,'stroke-dasharray':'4,3'},lg);
  
  
  const t1=txt(507,1591,'1T thermal plasma model',{'font-size':12,fill:'#666','class':'serif','letter-spacing':'1'},lg);
  
  
  const l2=mk('line',{x1:450,x2:493,y1:1600,y2:1600,stroke:'#1515d8','stroke-width':1.4},lg);
  
  
  const t2=txt(507,1604,'2T thermal plasma model',{'font-size':12,fill:'#666','class':'serif','letter-spacing':'1'},lg);
  
  
})();
</script>
</body></html>
